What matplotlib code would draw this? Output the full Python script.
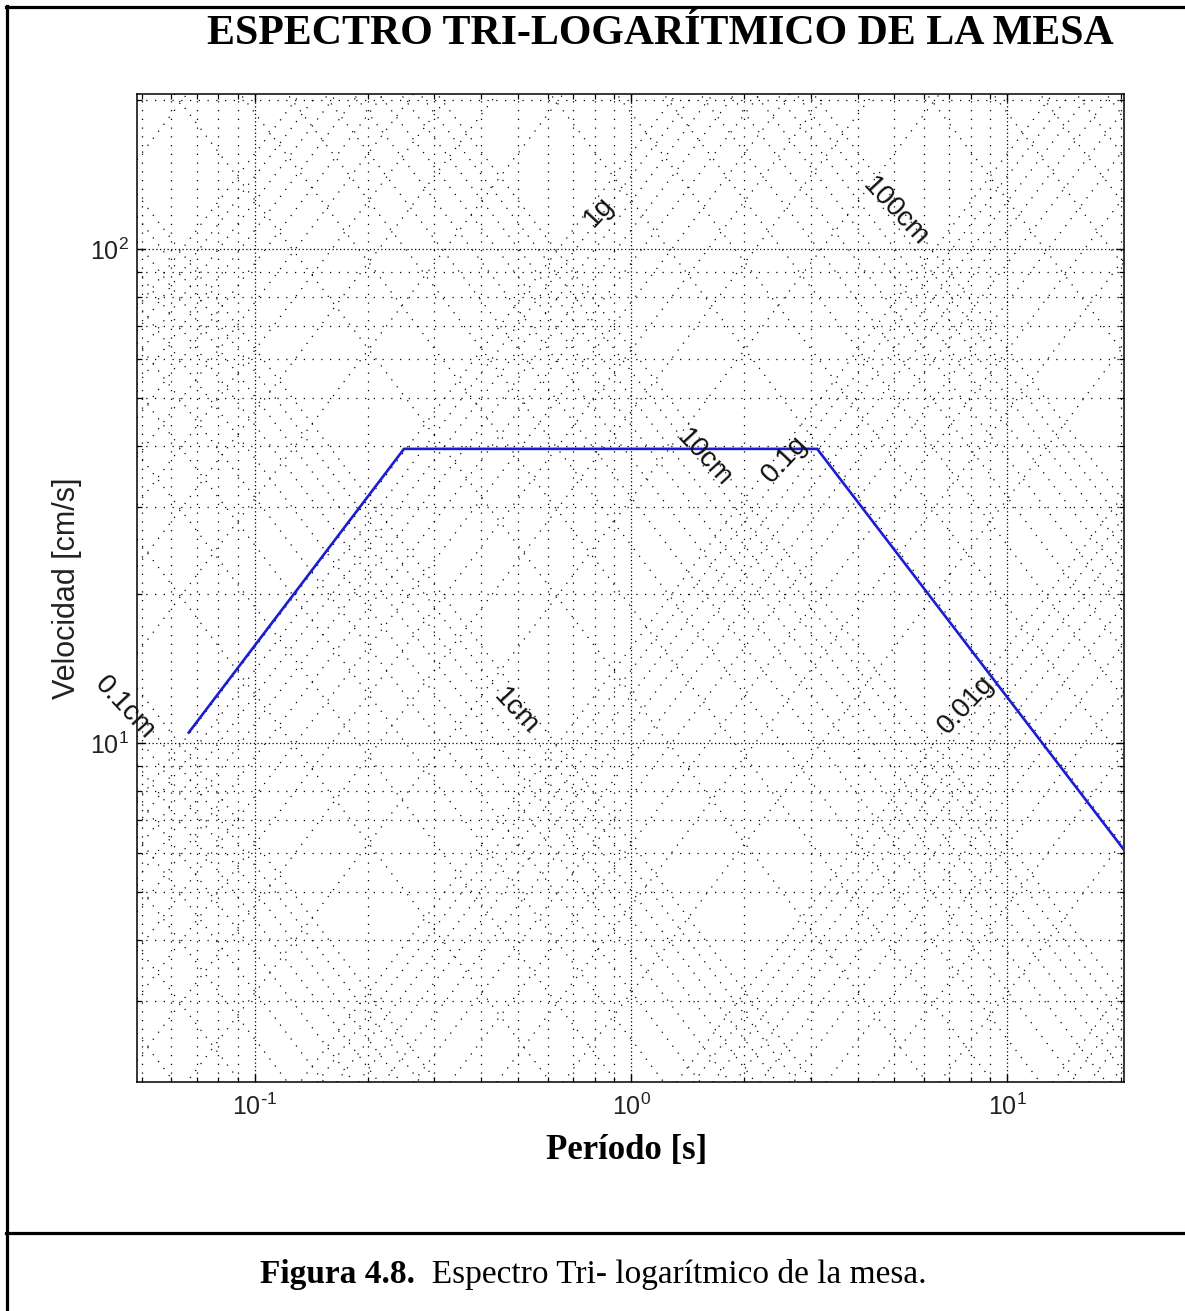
import numpy as np
import matplotlib
matplotlib.use('Agg')
import matplotlib.pyplot as plt
from matplotlib.lines import Line2D
from matplotlib.ticker import FuncFormatter

plt.rcParams['axes.unicode_minus'] = False

# ---------------- data ----------------
period = [0.0667, 0.249, 3.12, 20.3]      # s
velocity = [10.5, 39.4, 39.4, 6.11]       # cm/s

disp_labels = ['0.1cm', '1cm', '10cm', '100cm']
disp_label_T = [0.0451, 0.494, 1.564, 5.04]
disp_label_V = [11.8, 11.57, 37.8, 119.0]

acc_labels = ['0.01g', '0.1g', '1g']
acc_label_T = [7.78, 2.553, 0.822]
acc_label_V = [11.95, 37.5, 119.0]

x_ticks = [0.1, 1, 10]
y_ticks = [10, 100]
x_limits = [0.0486, 20.4]
y_limits = [2.06, 206.0]

title_text = 'ESPECTRO TRI-LOGARÍTMICO DE LA MESA'
xlabel_text = 'Período [s]'
ylabel_text = 'Velocidad [cm/s]'
caption_bold = 'Figura 4.8.'
caption_rest = '  Espectro Tri- logarítmico de la mesa.'

G = 981.0  # cm/s^2

# ---------------- figure ----------------
W, H = 1185, 1311
fig = plt.figure(figsize=(W / 100, H / 100), dpi=100)
fig.patch.set_facecolor('white')

ax_l, ax_r, ax_t, ax_b = 137, 1124, 94, 1082
ax = fig.add_axes([ax_l / W, 1 - ax_b / H, (ax_r - ax_l) / W, (ax_b - ax_t) / H])
ax.set_xscale('log')
ax.set_yscale('log')
ax.set_xlim(*x_limits)
ax.set_ylim(*y_limits)

sans = ['Liberation Sans', 'DejaVu Sans']
serif = ['Liberation Serif', 'DejaVu Serif']

# rectangular grid
ax.grid(True, which='major', color='k', linestyle=(0, (1, 2)), linewidth=0.9)
ax.grid(True, which='minor', color='k', linestyle=(0, (1, 6)), linewidth=0.9)
ax.set_axisbelow(True)

# diagonal grid lines (constant displacement and constant acceleration)
Tline = np.array(x_limits)
for n in range(-3, 4):
    for k in range(1, 10):
        D = k * 10.0 ** n  # cm
        ax.plot(Tline, 2 * np.pi * D / Tline, color='k', linestyle=(0, (1, 6)),
                linewidth=0.9, scalex=False, scaley=False, zorder=1)
for n in range(-4, 3):
    for k in range(1, 10):
        A = k * 10.0 ** n * G
        ax.plot(Tline, A * Tline / (2 * np.pi), color='k', linestyle=(0, (1, 6)),
                linewidth=0.9, scalex=False, scaley=False, zorder=1)

# spectrum
ax.plot(period, velocity, color='#1c1cd4', linewidth=1.9, zorder=5)

# labels on diagonals
for lab, t, v in zip(disp_labels, disp_label_T, disp_label_V):
    ax.text(t, v, lab, rotation=-47, ha='center', va='center', fontsize=20,
            family=sans, rotation_mode='anchor', clip_on=False, zorder=6, color='#111111')
for lab, t, v in zip(acc_labels, acc_label_T, acc_label_V):
    ax.text(t, v, lab, rotation=47, ha='center', va='center', fontsize=20,
            family=sans, rotation_mode='anchor', clip_on=False, zorder=6, color='#111111')


def pow_fmt(val, pos):
    e = int(round(np.log10(val)))
    if e < 0:
        return r'$\mathdefault{10^{\text{-}%d}}$' % (-e)
    return r'$\mathdefault{10^{%d}}$' % e


# ticks
ax.tick_params(which='both', direction='in', top=True, right=True, color='k')
ax.tick_params(which='major', length=6, width=1.0)
ax.tick_params(which='minor', length=3.5, width=0.9)
ax.tick_params(axis='x', which='major', pad=8)
ax.tick_params(axis='y', which='major', pad=6)
ax.set_xticks(x_ticks)
ax.set_yticks(y_ticks)
ax.xaxis.set_major_formatter(FuncFormatter(pow_fmt))
ax.yaxis.set_major_formatter(FuncFormatter(pow_fmt))
for lbl in ax.get_xticklabels() + ax.get_yticklabels():
    lbl.set_family(sans)
    lbl.set_fontsize(18)
    lbl.set_color('#222222')
for sp in ax.spines.values():
    sp.set_linewidth(1.1)
    sp.set_color('k')

# axis labels
ax.set_xlabel(xlabel_text, fontsize=25, fontweight='bold', family=serif)
ax.xaxis.set_label_coords((627 - ax_l) / (ax_r - ax_l), -(1151 - ax_b) / (ax_b - ax_t))
ax.xaxis.label.set_va('center')
ax.set_ylabel(ylabel_text, fontsize=22, family=sans, color='#222222')
ax.yaxis.set_label_coords(-(ax_l - 67) / (ax_r - ax_l), 0.5)
ax.yaxis.label.set_va('center')

# title
fig.text(660 / W, 1 - 34 / H, title_text, ha='center', va='center', fontsize=30.2,
         fontweight='bold', family=serif)

# frame lines
lw_frame = 2.3
fig.add_artist(Line2D([6 / W, 1.0], [1 - 7 / H, 1 - 7 / H], color='k', lw=lw_frame,
                      transform=fig.transFigure))
fig.add_artist(Line2D([7 / W, 7 / W], [1 - 6 / H, 0.0], color='k', lw=lw_frame,
                      transform=fig.transFigure))
fig.add_artist(Line2D([6 / W, 1.0], [1 - 1233 / H, 1 - 1233 / H], color='k', lw=lw_frame,
                      transform=fig.transFigure))

# caption
cap_y = 1 - 1274 / H
t1 = fig.text(260 / W, cap_y, caption_bold, ha='left', va='center', fontsize=24,
              fontweight='bold', family=serif)
fig.canvas.draw()
bb = t1.get_window_extent(renderer=fig.canvas.get_renderer())
fig.text(bb.x1 / W, cap_y, caption_rest, ha='left', va='center', fontsize=24,
         family=serif)

fig.savefig('out.png', dpi=100, facecolor='white')
